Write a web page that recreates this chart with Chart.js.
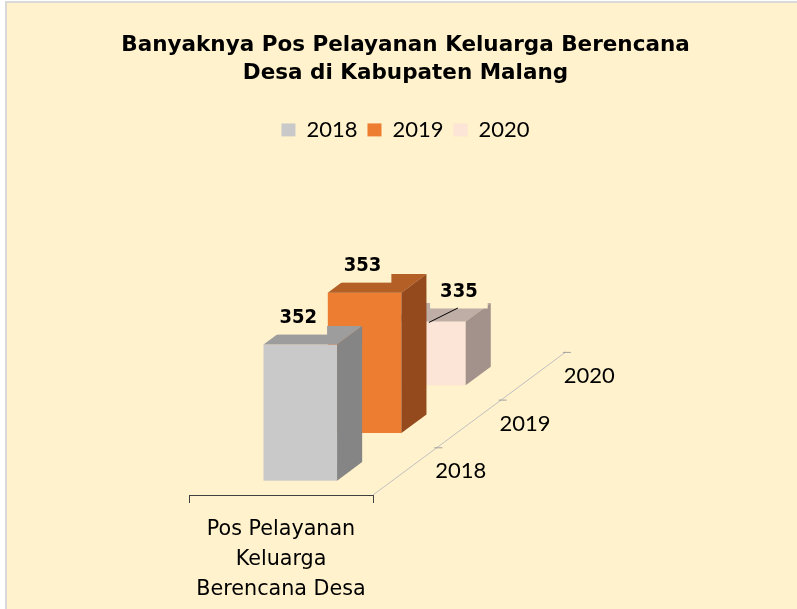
<!DOCTYPE html>
<html>
<head>
<meta charset="utf-8">
<script src="https://cdn.jsdelivr.net/npm/chart.js@4.4.1/dist/chart.umd.min.js"></script>
<style>
  html, body { margin: 0; padding: 0; background: #fff; }
  #card { position: absolute; left: 5px; top: 1px; width: 792px; height: 608px; box-sizing: border-box;
          background: #FFF2CC; border-top: 2px solid #D9D9D9; border-left: 2px solid #D9D9D9; }
  #wrap { position: absolute; left: 0; top: 0; width: 797px; height: 609px; }
</style>
</head>
<body>
<div id="card"></div>
<div id="wrap"><canvas id="chart"></canvas></div>
<script>
// data
const categories = [['Pos Pelayanan', 'Keluarga', 'Berencana Desa']];
const seriesNames = ['2018', '2019', '2020'];
const values2018 = [352];
const values2019 = [353];
const values2020 = [335];
const axisMin = 320;
const axisMax = 400.9;

const BG = '#FFF2CC';
const condFont = '"DejaVu Sans Condensed", "DejaVu Sans", sans-serif';

// dessine les barres en 3D (face avant, dessus, côté) + axe de profondeur
const bar3d = {
  id: 'bar3d',
  beforeDatasetsDraw(chart, args, o) {
    const ctx = chart.ctx;
    const a = chart.chartArea;
    const n = chart.data.datasets.length;

    // axe de profondeur (séries)
    ctx.save();
    ctx.strokeStyle = '#BFBFBF';
    ctx.lineWidth = 1;
    ctx.beginPath();
    ctx.moveTo(a.right, a.bottom);
    ctx.lineTo(a.right + n * o.slotX, a.bottom - n * o.slotY);
    ctx.stroke();
    ctx.strokeStyle = '#A0A0A0';
    for (let k = 1; k <= n; k++) {
      const px = a.right + k * o.slotX, py = a.bottom - k * o.slotY;
      ctx.beginPath();
      ctx.moveTo(px - 3, py + 0.5);
      ctx.lineTo(px + 5, py + 0.5);
      ctx.stroke();
    }
    ctx.fillStyle = '#000';
    ctx.font = o.depthFont;
    ctx.textAlign = 'left';
    ctx.textBaseline = 'middle';
    chart.data.datasets.forEach((ds, k) => {
      const mx = a.right + (k + 0.5) * o.slotX, my = a.bottom - (k + 0.5) * o.slotY;
      ctx.fillText(ds.label, mx + o.depthLabelGap, my);
    });
    ctx.restore();

    // barres, de l'arrière vers l'avant
    for (let i = n - 1; i >= 0; i--) {
      const ds = chart.data.datasets[i];
      const meta = chart.getDatasetMeta(i);
      meta.data.forEach(el => {
        const p = el.getProps(['x', 'y', 'base', 'width'], true);
        const sx = (i + o.front) * o.slotX, sy = (i + o.front) * o.slotY;
        const dx = o.depth * o.slotX, dy = o.depth * o.slotY;
        const l = p.x - p.width / 2 + sx, r = p.x + p.width / 2 + sx;
        const t = p.y - sy, b = Math.min(p.base, a.bottom) - sy;
        ctx.save();
        ctx.fillStyle = ds.backgroundColor;
        ctx.fillRect(l, t, r - l, b - t);
        ctx.fillStyle = ds.topColor;
        ctx.beginPath();
        ctx.moveTo(l, t); ctx.lineTo(l + dx, t - dy); ctx.lineTo(r + dx, t - dy); ctx.lineTo(r, t);
        ctx.closePath(); ctx.fill();
        ctx.fillStyle = ds.sideColor;
        ctx.beginPath();
        ctx.moveTo(r, t); ctx.lineTo(r + dx, t - dy); ctx.lineTo(r + dx, b - dy); ctx.lineTo(r, b);
        ctx.closePath(); ctx.fill();
        ctx.restore();
      });
    }
    return false;
  },
  // étiquettes de valeurs avec fond
  afterDraw(chart, args, o) {
    const ctx = chart.ctx;
    chart.data.datasets.forEach((ds, i) => {
      const meta = chart.getDatasetMeta(i);
      meta.data.forEach((el, j) => {
        const p = el.getProps(['x', 'y', 'width'], true);
        const sx = (i + o.front) * o.slotX, sy = (i + o.front) * o.slotY;
        const ax = p.x + sx, ay = p.y - sy;
        const shift = o.labelShift[i] || [0, 0];
        const cx = ax + o.labelDx + shift[0], cy = ay + o.labelDy + shift[1];
        const txt = String(ds.data[j]);
        ctx.save();
        ctx.font = o.labelFont;
        const w = ctx.measureText(txt).width + 20, h = 36;
        ctx.fillStyle = BG;
        ctx.fillRect(cx - w / 2, cy - h / 2, w, h);
        if (shift[0] || shift[1]) {
          ctx.strokeStyle = '#000';
          ctx.lineWidth = 1;
          ctx.beginPath();
          ctx.moveTo(cx - 1, cy + h / 2 - 0.5);
          ctx.lineTo(ax, ay + 1);
          ctx.stroke();
        }
        ctx.fillStyle = '#000';
        ctx.textAlign = 'center';
        ctx.textBaseline = 'middle';
        ctx.fillText(txt, cx, cy + 1);
        ctx.restore();
      });
    });
  }
};

new Chart(document.getElementById('chart'), {
  type: 'bar',
  data: {
    labels: categories,
    datasets: [
      { label: seriesNames[0], data: values2018, backgroundColor: '#C9C9C9', topColor: '#9D9D9D', sideColor: '#858585' },
      { label: seriesNames[1], data: values2019, backgroundColor: '#ED7D31', topColor: '#B45F26', sideColor: '#944A1C' },
      { label: seriesNames[2], data: values2020, backgroundColor: '#FCE4D6', topColor: '#BEAEA6', sideColor: '#A3928B' }
    ]
  },
  options: {
    responsive: true,
    maintainAspectRatio: false,
    animation: false,
    layout: { padding: { left: 14, right: 0, top: 0, bottom: 0 } },
    datasets: { bar: { grouped: false, barPercentage: 0.4, categoryPercentage: 1, base: axisMin } },
    scales: {
      x: {
        offset: true,
        grid: { display: true, offset: true, drawOnChartArea: false, drawTicks: true, tickLength: 8, color: '#404040' },
        border: { display: true, color: '#404040' },
        ticks: { color: '#000', padding: 11, maxRotation: 0, autoSkip: false,
                 font: { family: '"DejaVu Sans", sans-serif', size: 20.7, lineHeight: 1.47 } },
        afterFit: s => { s.height = 114; }
      },
      y: {
        min: axisMin, max: axisMax,
        grid: { display: false }, border: { display: false }, ticks: { display: false },
        afterFit: s => { s.width = 175; }
      },
      yR: {
        position: 'right',
        grid: { display: false }, border: { display: false }, ticks: { display: false },
        afterFit: s => { s.width = 424; }
      }
    },
    plugins: {
      title: {
        display: true,
        text: ['Banyaknya Pos Pelayanan Keluarga Berencana', 'Desa di Kabupaten Malang'],
        color: '#000',
        font: { family: '"DejaVu Sans", sans-serif', weight: 'bold', size: 21.5, lineHeight: 1.3 },
        padding: { top: 31, bottom: 22 }
      },
      legend: {
        position: 'top',
        labels: { color: '#000', boxWidth: 14, boxHeight: 13, padding: 10,
                  font: { family: 'Lato, sans-serif', size: 22 } }
      },
      tooltip: { enabled: false },
      bar3d: {
        slotX: 64.3, slotY: 47.7, front: 0.3, depth: 0.39,
        labelDx: -2, labelDy: -28, labelShift: [[0, 0], [0, 0], [32, -3]],
        labelFont: 'bold 20px ' + condFont,
        depthFont: '22px Lato, sans-serif', depthLabelGap: 30
      }
    }
  },
  plugins: [bar3d]
});
</script>
</body>
</html>
